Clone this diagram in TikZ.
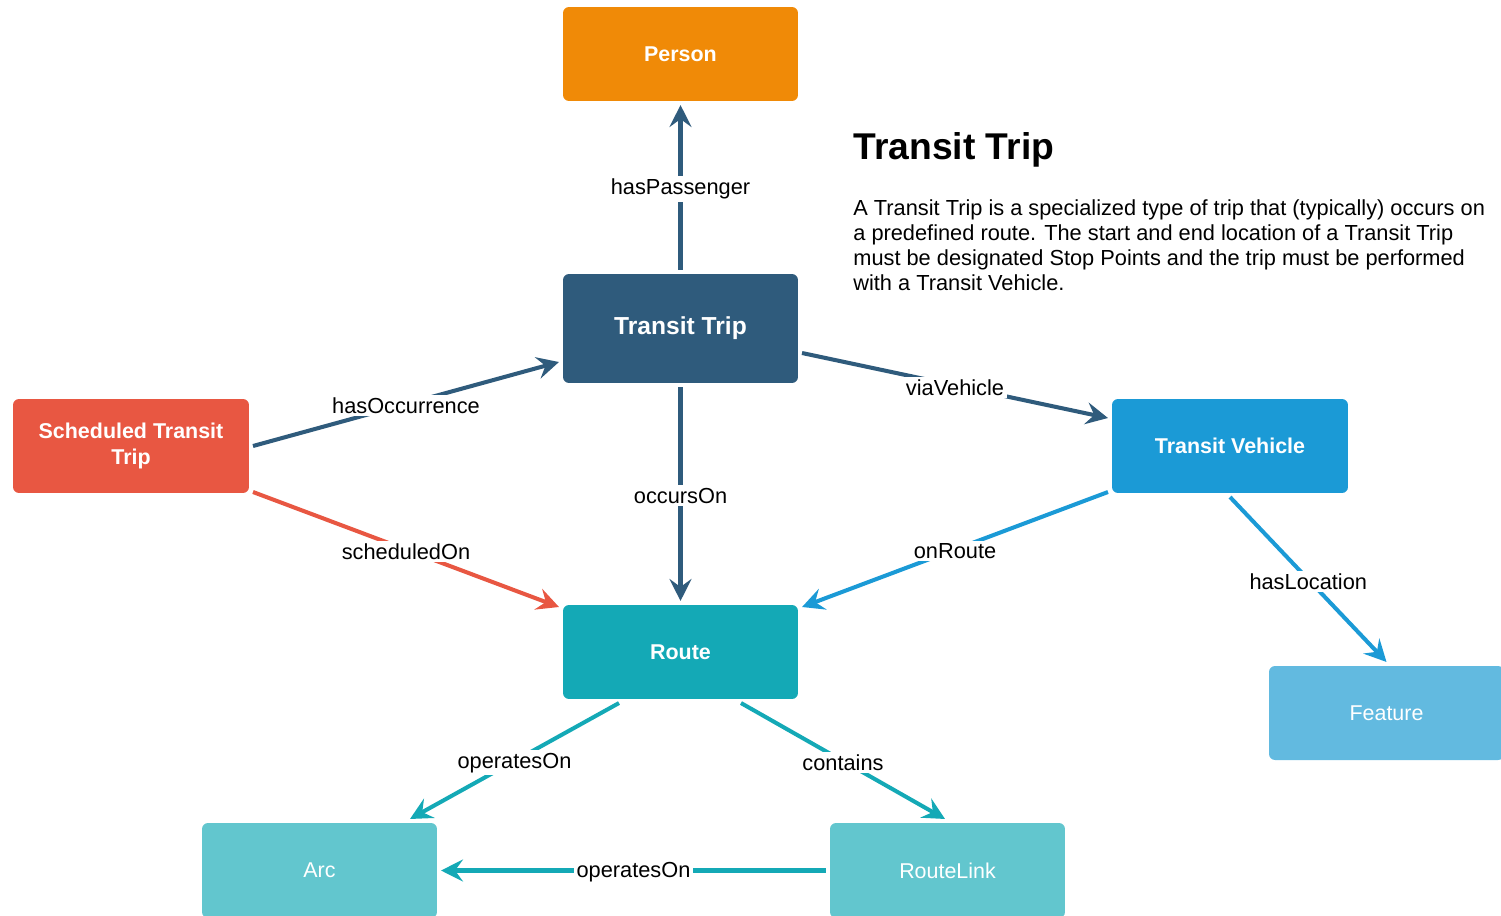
\documentclass[tikz,border=0pt]{standalone}
\usepackage{fontspec}
\setmainfont{Liberation Sans}
\usetikzlibrary{arrows.meta,positioning,calc}
\definecolor{cperson}{RGB}{240,138,7}
\definecolor{ctrip}{RGB}{47,91,124}
\definecolor{csched}{RGB}{232,87,66}
\definecolor{cveh}{RGB}{27,154,214}
\definecolor{croute}{RGB}{20,169,182}
\definecolor{cfeat}{RGB}{98,186,224}
\definecolor{clink}{RGB}{98,198,206}
\tikzset{
  ent/.style={rounded corners=3.4pt, minimum width=4.7cm, minimum height=1.88cm,
      text=white, align=center, outer sep=2.3pt, inner sep=2pt,
      font=\fontsize{12.2}{14.7}\selectfont\bfseries},
  entl/.style={ent, font=\fontsize{12.2}{14.7}\selectfont},
  rel/.style={-{Stealth[length=4.4mm, width=4.4mm, inset=1.6mm]}, line width=2.3pt},
  lab/.style={fill=white, text=black, inner sep=1.5pt, yshift=-1pt, font=\fontsize{12.4}{14}\selectfont},
}
\begin{document}
\begin{tikzpicture}[x=0.02cm, y=-0.02cm]
  \useasboundingbox (0,0) rectangle (1501,916);
  % entities
  \node[ent, fill=cperson] (person) at (680.5,54) {Person};
  \node[ent, fill=ctrip, minimum height=2.18cm, font=\fontsize{14}{16}\selectfont\bfseries] (trip) at (680.5,328.5) {Transit Trip};
  \node[ent, fill=csched, minimum width=4.72cm] (sched) at (131,446) {Scheduled Transit\\Trip};
  \node[ent, fill=cveh, minimum width=4.72cm] (veh) at (1230,446) {Transit Vehicle};
  \node[ent, fill=croute] (route) at (680.5,652) {Route};
  \node[entl, fill=cfeat] (feat) at (1386.5,713) {Feature};
  \node[entl, fill=clink, minimum height=1.9cm] (arc) at (319.5,870.5) {Arc};
  \node[entl, fill=clink, minimum height=1.9cm] (rlink) at (947.5,870.5) {RouteLink};
  % relations
  \draw[rel, ctrip] (trip.north) -- node[lab] {hasPassenger} (person.south);
  \draw[rel, ctrip] (sched.east) -- node[lab] {hasOccurrence} ($(trip.west)+(0,33.5)$);
  \draw[rel, ctrip] ($(trip.east)+(0,24.5)$) -- node[lab] {viaVehicle} ($(veh.west)+(0,-28)$);
  \draw[rel, ctrip] (trip.south) -- node[lab] {occursOn} (route.north);
  \draw[rel, csched] ($(sched.east)+(0,46)$) -- node[lab] {scheduledOn} ($(route.west)+(0,-45)$);
  \draw[rel, cveh] ($(veh.west)+(0,46)$) -- node[lab] {onRoute} ($(route.east)+(0,-45)$);
  \draw[rel, cveh] (veh.south) -- node[lab] {hasLocation} (feat.north);
  \draw[rel, croute] ($(route.south)+(-61.5,0)$) -- node[lab] {operatesOn} ($(arc.north)+(90.5,0)$);
  \draw[rel, croute] ($(route.south)+(60.5,0)$) -- node[lab] {contains} ($(rlink.north)+(-2.5,0)$);
  \draw[rel, croute] (rlink.west) -- node[lab] {operatesOn} (arc.east);
  % description
  \node[anchor=base west, inner sep=0, font=\fontsize{21.2}{24}\selectfont\bfseries] (title) at (853,159) {Transit Trip};
  \node[anchor=north west, inner sep=0, align=left, font=\fontsize{12.4}{14.2}\selectfont] (desc) at (853,199.5)
    {A Transit Trip is a specialized type of trip that (typically) occurs on\\
     a predefined route. The start and end location of a Transit Trip\\
     must be designated Stop Points and the trip must be performed\\
     with a Transit Vehicle.};
\end{tikzpicture}
\end{document}
